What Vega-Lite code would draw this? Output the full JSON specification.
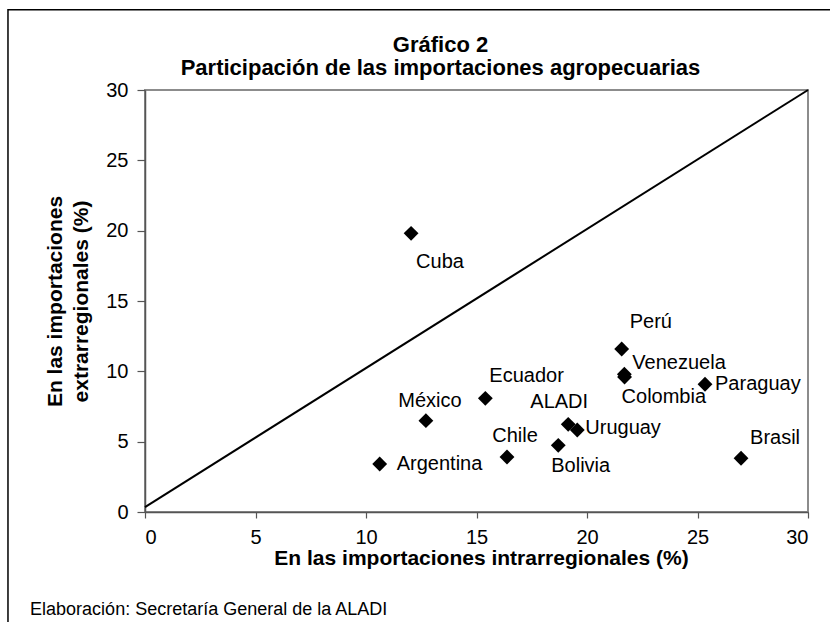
{
  "$schema": "https://vega.github.io/schema/vega-lite/v6.json",
  "width": 663,
  "height": 422,
  "autosize": "none",
  "padding": {"left": 145, "top": 90, "right": 22, "bottom": 110},
  "background": "white",
  "config": {
    "font": "Liberation Sans",
    "view": {"stroke": "#8c8c8c", "strokeWidth": 2},
    "text": {"fontSize": 20, "baseline": "middle", "color": "black", "font": "Liberation Sans"},
    "axis": {
      "grid": false,
      "domainColor": "#555555",
      "domainWidth": 1.5,
      "tickColor": "#555555",
      "tickWidth": 1.2,
      "labelColor": "black",
      "labelFontSize": 20,
      "labelFont": "Liberation Sans",
      "titleColor": "black",
      "titleFontSize": 21,
      "titleFont": "Liberation Sans",
      "titleFontWeight": "bold"
    }
  },
  "title": {
    "text": ["Gráfico 2", "Participación de las importaciones agropecuarias"],
    "font": "Liberation Sans",
    "fontSize": 22,
    "fontWeight": "bold",
    "color": "black",
    "anchor": "middle",
    "frame": "group",
    "dx": -36,
    "dy": 105,
    "offset": 12,
    "lineHeight": 23,
    "baseline": "bottom"
  },
  "datasets": {
    "paises": [
      {"pais": "Cuba", "intra": 12.04, "extra": 19.81},
      {"pais": "Perú", "intra": 21.57, "extra": 11.59},
      {"pais": "Venezuela", "intra": 21.69, "extra": 9.8},
      {"pais": "Colombia", "intra": 21.7, "extra": 9.6},
      {"pais": "Paraguay", "intra": 25.34, "extra": 9.08},
      {"pais": "Ecuador", "intra": 15.4, "extra": 8.08},
      {"pais": "México", "intra": 12.71, "extra": 6.49},
      {"pais": "ALADI", "intra": 19.15, "extra": 6.23},
      {"pais": "Uruguay", "intra": 19.56, "extra": 5.83},
      {"pais": "Bolivia", "intra": 18.7, "extra": 4.74},
      {"pais": "Chile", "intra": 16.38, "extra": 3.91},
      {"pais": "Argentina", "intra": 10.62, "extra": 3.41},
      {"pais": "Brasil", "intra": 26.97, "extra": 3.82}
    ],
    "diagonal": [
      {"intra": 0, "extra": 0.35},
      {"intra": 30, "extra": 30}
    ],
    "nota": [
      {"texto": "Elaboración: Secretaría General de la ALADI"}
    ]
  },
  "layer": [
    {
      "data": {"name": "nota"},
      "mark": {"type": "rect", "fill": null, "stroke": "black", "strokeWidth": 1.5, "clip": false},
      "encoding": {
        "x": {"datum": -6.2, "type": "quantitative", "scale": {"domain": [0, 30], "nice": false}},
        "x2": {"datum": 31.5},
        "y": {"datum": 35.7, "type": "quantitative", "scale": {"domain": [0, 30], "nice": false}},
        "y2": {"datum": -9}
      }
    },
    {
      "data": {"name": "diagonal"},
      "mark": {"type": "line", "color": "black", "strokeWidth": 2},
      "encoding": {
        "x": {"field": "intra", "type": "quantitative"},
        "y": {"field": "extra", "type": "quantitative"}
      }
    },
    {
      "data": {"name": "paises"},
      "mark": {"type": "point", "shape": "diamond", "filled": true, "color": "black", "opacity": 1, "size": 220},
      "encoding": {
        "x": {
          "field": "intra",
          "type": "quantitative",
          "scale": {"domain": [0, 30], "nice": false},
          "axis": {
            "values": [0, 5, 10, 15, 20, 25, 30],
            "title": "En las importaciones intrarregionales (%)",
            "tickSize": 6,
            "labelPadding": 9,
            "titlePadding": 0,
            "titleX": 336
          }
        },
        "y": {
          "field": "extra",
          "type": "quantitative",
          "scale": {"domain": [0, 30], "nice": false},
          "axis": {
            "values": [0, 5, 10, 15, 20, 25, 30],
            "title": ["En las importaciones", "extrarregionales (%)"],
            "titleLineHeight": 26,
            "tickSize": 8,
            "labelPadding": 9,
            "titlePadding": 14
          }
        }
      }
    },
    {
      "data": {"name": "paises"},
      "transform": [{"filter": "datum.pais === 'Cuba'"}],
      "mark": {"type": "text", "align": "left", "dx": 5, "dy": 29},
      "encoding": {"x": {"field": "intra", "type": "quantitative"}, "y": {"field": "extra", "type": "quantitative"}, "text": {"field": "pais"}}
    },
    {
      "data": {"name": "paises"},
      "transform": [{"filter": "datum.pais === 'Perú'"}],
      "mark": {"type": "text", "align": "left", "dx": 8, "dy": -27},
      "encoding": {"x": {"field": "intra", "type": "quantitative"}, "y": {"field": "extra", "type": "quantitative"}, "text": {"field": "pais"}}
    },
    {
      "data": {"name": "paises"},
      "transform": [{"filter": "datum.pais === 'Venezuela'"}],
      "mark": {"type": "text", "align": "left", "dx": 8, "dy": -11},
      "encoding": {"x": {"field": "intra", "type": "quantitative"}, "y": {"field": "extra", "type": "quantitative"}, "text": {"field": "pais"}}
    },
    {
      "data": {"name": "paises"},
      "transform": [{"filter": "datum.pais === 'Colombia'"}],
      "mark": {"type": "text", "align": "left", "dx": -3, "dy": 20},
      "encoding": {"x": {"field": "intra", "type": "quantitative"}, "y": {"field": "extra", "type": "quantitative"}, "text": {"field": "pais"}}
    },
    {
      "data": {"name": "paises"},
      "transform": [{"filter": "datum.pais === 'Paraguay'"}],
      "mark": {"type": "text", "align": "left", "dx": 10, "dy": 0},
      "encoding": {"x": {"field": "intra", "type": "quantitative"}, "y": {"field": "extra", "type": "quantitative"}, "text": {"field": "pais"}}
    },
    {
      "data": {"name": "paises"},
      "transform": [{"filter": "datum.pais === 'Brasil'"}],
      "mark": {"type": "text", "align": "left", "dx": 9, "dy": -20},
      "encoding": {"x": {"field": "intra", "type": "quantitative"}, "y": {"field": "extra", "type": "quantitative"}, "text": {"field": "pais"}}
    },
    {
      "data": {"name": "paises"},
      "transform": [{"filter": "datum.pais === 'Uruguay'"}],
      "mark": {"type": "text", "align": "left", "dx": 8, "dy": -2},
      "encoding": {"x": {"field": "intra", "type": "quantitative"}, "y": {"field": "extra", "type": "quantitative"}, "text": {"field": "pais"}}
    },
    {
      "data": {"name": "paises"},
      "transform": [{"filter": "datum.pais === 'ALADI'"}],
      "mark": {"type": "text", "align": "center", "dx": -9, "dy": -22},
      "encoding": {"x": {"field": "intra", "type": "quantitative"}, "y": {"field": "extra", "type": "quantitative"}, "text": {"field": "pais"}}
    },
    {
      "data": {"name": "paises"},
      "transform": [{"filter": "datum.pais === 'Ecuador'"}],
      "mark": {"type": "text", "align": "left", "dx": 4, "dy": -22},
      "encoding": {"x": {"field": "intra", "type": "quantitative"}, "y": {"field": "extra", "type": "quantitative"}, "text": {"field": "pais"}}
    },
    {
      "data": {"name": "paises"},
      "transform": [{"filter": "datum.pais === 'México'"}],
      "mark": {"type": "text", "align": "center", "dx": 4, "dy": -20},
      "encoding": {"x": {"field": "intra", "type": "quantitative"}, "y": {"field": "extra", "type": "quantitative"}, "text": {"field": "pais"}}
    },
    {
      "data": {"name": "paises"},
      "transform": [{"filter": "datum.pais === 'Chile'"}],
      "mark": {"type": "text", "align": "center", "dx": 8, "dy": -21},
      "encoding": {"x": {"field": "intra", "type": "quantitative"}, "y": {"field": "extra", "type": "quantitative"}, "text": {"field": "pais"}}
    },
    {
      "data": {"name": "paises"},
      "transform": [{"filter": "datum.pais === 'Bolivia'"}],
      "mark": {"type": "text", "align": "left", "dx": -7, "dy": 21},
      "encoding": {"x": {"field": "intra", "type": "quantitative"}, "y": {"field": "extra", "type": "quantitative"}, "text": {"field": "pais"}}
    },
    {
      "data": {"name": "paises"},
      "transform": [{"filter": "datum.pais === 'Argentina'"}],
      "mark": {"type": "text", "align": "left", "dx": 17, "dy": 0},
      "encoding": {"x": {"field": "intra", "type": "quantitative"}, "y": {"field": "extra", "type": "quantitative"}, "text": {"field": "pais"}}
    },
    {
      "data": {"name": "nota"},
      "mark": {"type": "text", "align": "left", "baseline": "alphabetic", "fontSize": 18, "clip": false},
      "encoding": {
        "x": {"datum": -5.2, "type": "quantitative"},
        "y": {"datum": -7.32, "type": "quantitative"},
        "text": {"field": "texto"}
      }
    }
  ]
}
